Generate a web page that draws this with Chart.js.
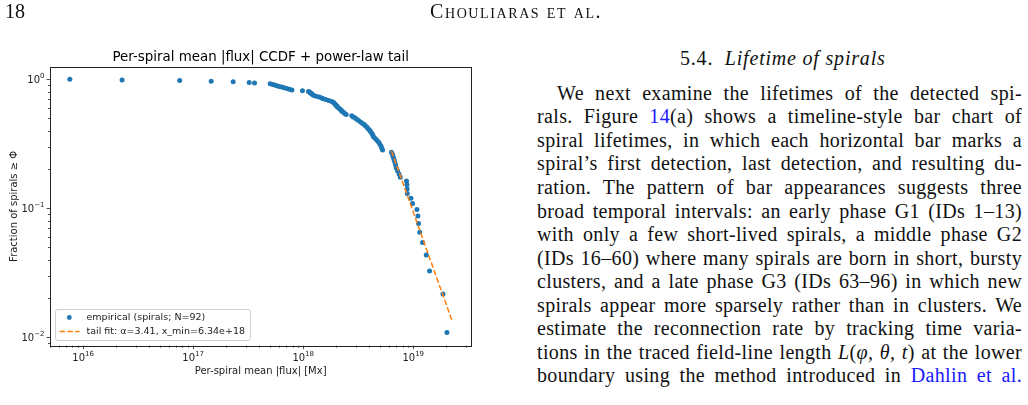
<!DOCTYPE html>
<html>
<head>
<meta charset="utf-8">
<script src="https://cdn.jsdelivr.net/npm/chart.js@4/dist/chart.umd.min.js"></script>
<style>
  body { margin:0; background:#fff; width:1028px; height:405px; overflow:hidden; position:relative; }
  #fig { position:absolute; left:0; top:0; }
  .serif { font-family:"Liberation Serif","DejaVu Serif",serif; color:#111; position:absolute; white-space:nowrap; }
  .ln { position:absolute; left:537px; width:485px; font-family:"Liberation Serif",serif; font-size:20px; color:#111;
        text-align:justify; text-align-last:justify; white-space:normal; line-height:24px; letter-spacing:0.35px; }
  .lnk { color:#1a1aff; }
</style>
</head>
<body>
<canvas id="fig" width="500" height="405"></canvas>

<div class="serif" style="left:5px; top:0px; font-size:20px;">18</div>
<div class="serif" style="left:430px; top:0px; font-size:20px; font-variant:small-caps; letter-spacing:1.6px;">Chouliaras et al.</div>
<div class="serif" style="left:680px; top:47px; font-size:20px; letter-spacing:0.8px;">5.4.&nbsp; <i>Lifetime of spirals</i></div>

<div class="ln" style="top:81px; padding-left:20px; width:465px;">We next examine the lifetimes of the detected spi-</div>
<div class="ln" style="top:104px;">rals. Figure <span class="lnk">14</span>(a) shows a timeline-style bar chart of</div>
<div class="ln" style="top:128px;">spiral lifetimes, in which each horizontal bar marks a</div>
<div class="ln" style="top:151px;">spiral’s first detection, last detection, and resulting du-</div>
<div class="ln" style="top:175px;">ration. The pattern of bar appearances suggests three</div>
<div class="ln" style="top:199px;">broad temporal intervals: an early phase G1 (IDs 1–13)</div>
<div class="ln" style="top:222px;">with only a few short-lived spirals, a middle phase G2</div>
<div class="ln" style="top:246px;">(IDs 16–60) where many spirals are born in short, bursty</div>
<div class="ln" style="top:269px;">clusters, and a late phase G3 (IDs 63–96) in which new</div>
<div class="ln" style="top:293px;">spirals appear more sparsely rather than in clusters. We</div>
<div class="ln" style="top:316px;">estimate the reconnection rate by tracking time varia-</div>
<div class="ln" style="top:340px;">tions in the traced field-line length <i>L</i>(<i>φ, θ, t</i>) at the lower</div>
<div class="ln" style="top:363px;">boundary using the method introduced in <span class="lnk">Dahlin et al.</span></div>

<script>
// donnees (flux moyen par spirale, triees)
const flux = [
  7.57e15, 2.26e16, 7.54e16, 1.458e17, 2.31e17, 3.23e17, 3.61e17,
  5.01e17, 5.28e17, 5.51e17, 5.77e17, 6.05e17, 6.38e17, 6.72e17, 7.11e17, 7.51e17, 7.90e17,
  9.85e17, 1.117e18, 1.146e18, 1.170e18, 1.19e18, 1.215e18, 1.246e18, 1.313e18, 1.398e18,
  1.473e18, 1.52e18, 1.602e18, 1.705e18, 1.816e18, 1.874e18, 1.913e18, 1.954e18, 1.987e18,
  2.016e18, 2.050e18, 2.102e18, 2.169e18, 2.215e18, 2.247e18, 2.324e18, 2.383e18, 2.459e18,
  2.760e18, 2.848e18, 2.970e18, 3.065e18, 3.183e18, 3.319e18, 3.439e18, 3.585e18, 3.685e18,
  3.795e18, 3.899e18, 4.007e18, 4.109e18, 4.213e18, 4.284e18, 4.357e18, 4.515e18, 4.677e18,
  4.836e18, 4.96e18, 5.087e18, 5.17e18, 5.26e18,
  6.34e18, 6.48e18, 6.58e18, 6.69e18, 6.80e18, 6.90e18, 7.01e18, 7.20e18, 7.43e18, 7.62e18,
  8.69e18, 8.76e18, 8.80e18, 8.82e18, 9.53e18, 9.85e18,
  1.080e19, 1.103e19, 1.117e19, 1.146e19, 1.215e19, 1.313e19, 1.407e19, 1.862e19, 2.025e19
];
// fraction >= Phi (k/92)
const frac = [
  1.0000, 0.9891, 0.9783, 0.9674, 0.9565, 0.9457, 0.9348,
  0.9239, 0.9130, 0.9022, 0.8913, 0.8804, 0.8696, 0.8587, 0.8478, 0.8370, 0.8261,
  0.8152, 0.8043, 0.7935, 0.7826, 0.7717, 0.7609, 0.7500, 0.7391, 0.7283,
  0.7174, 0.7065, 0.6957, 0.6848, 0.6739, 0.6630, 0.6522, 0.6413, 0.6304,
  0.6196, 0.6087, 0.5978, 0.5870, 0.5761, 0.5652, 0.5543, 0.5435, 0.5326,
  0.5217, 0.5109, 0.5000, 0.4891, 0.4783, 0.4674, 0.4565, 0.4457, 0.4348,
  0.4239, 0.4130, 0.4022, 0.3913, 0.3804, 0.3696, 0.3587, 0.3478, 0.3370,
  0.3261, 0.3152, 0.3043, 0.2935, 0.2826,
  0.2717, 0.2609, 0.2500, 0.2391, 0.2283, 0.2174, 0.2065, 0.1957, 0.1848, 0.1739,
  0.1630, 0.1522, 0.1413, 0.1304, 0.1196, 0.1087,
  0.0978, 0.0870, 0.0761, 0.0652, 0.0543, 0.0435, 0.0326, 0.0217, 0.0109
];
// ajustement loi de puissance (queue)
const fitFlux = [6.34e18, 2.27e19];
const fitFrac = [0.278, 0.0132];

const xTickExps = [16, 17, 18, 19];
const yTickExps = [0, -1, -2];

const FONT = '"DejaVu Sans", sans-serif';

function drawPow(ctx, exp, x, y, align) {
  // "10" + exposant en petit
  let e = exp < 0 ? '\u2212' + (-exp) : String(exp);
  ctx.font = '10px ' + FONT;
  let wb = ctx.measureText('10').width;
  ctx.font = '7px ' + FONT;
  let we = ctx.measureText(e).width;
  let total = wb + we;
  let x0 = align === 'right' ? x - total : x - total / 2;
  ctx.textAlign = 'left';
  ctx.textBaseline = 'alphabetic';
  ctx.font = '10px ' + FONT;
  ctx.fillText('10', x0, y);
  ctx.font = '7px ' + FONT;
  ctx.fillText(e, x0 + wb, y - 5);
}

const axesPlugin = {
  id: 'mplAxes',
  afterDatasetsDraw(chart) {
    const ctx = chart.ctx;
    const a = chart.chartArea;
    const sx = chart.scales.x, sy = chart.scales.y;
    ctx.save();
    ctx.fillStyle = '#222';
    ctx.strokeStyle = '#222';

    // cadre
    ctx.lineWidth = 1;
    ctx.strokeRect(Math.round(a.left) + 0.5, Math.round(a.top) + 0.5,
                   Math.round(a.right - a.left), Math.round(a.bottom - a.top));

    // graduations x
    ctx.beginPath();
    for (let e = 15; e <= 19; e++) {
      for (let m = 1; m <= 9; m++) {
        let v = m * Math.pow(10, e);
        if (v < sx.min || v > sx.max) continue;
        let px = Math.round(sx.getPixelForValue(v)) + 0.5;
        let len = m === 1 ? 3.5 : 2;
        ctx.moveTo(px, a.bottom);
        ctx.lineTo(px, a.bottom + len);
      }
    }
    // graduations y
    for (let e = -3; e <= 0; e++) {
      for (let m = 1; m <= 9; m++) {
        let v = m * Math.pow(10, e);
        if (v < sy.min || v > sy.max) continue;
        let py = Math.round(sy.getPixelForValue(v)) + 0.5;
        let len = m === 1 ? 3.5 : 2;
        ctx.moveTo(a.left, py);
        ctx.lineTo(a.left - len, py);
      }
    }
    ctx.lineWidth = 0.8;
    ctx.stroke();

    // etiquettes
    xTickExps.forEach(e => {
      drawPow(ctx, e, sx.getPixelForValue(Math.pow(10, e)), a.bottom + 15, 'center');
    });
    yTickExps.forEach(e => {
      drawPow(ctx, e, a.left - 5.5, sy.getPixelForValue(Math.pow(10, e)) + 4, 'right');
    });

    // titres
    ctx.textAlign = 'center';
    ctx.textBaseline = 'alphabetic';
    ctx.font = '13.4px ' + FONT;
    ctx.fillStyle = '#000';
    ctx.fillText('Per-spiral mean |flux| CCDF + power-law tail', (a.left + a.right) / 2, a.top - 6);
    ctx.font = '10px ' + FONT;
    ctx.fillStyle = '#222';
    ctx.fillText('Per-spiral mean |flux| [Mx]', (a.left + a.right) / 2, a.bottom + 28);
    ctx.save();
    ctx.translate(17, (a.top + a.bottom) / 2);
    ctx.rotate(-Math.PI / 2);
    ctx.fillText('Fraction of spirals \u2265 \u03a6', 0, 0);
    ctx.restore();

    // legende
    let lx = 55, ly = 309, lw = 195, lh = 31;
    ctx.beginPath();
    ctx.roundRect(lx + 0.5, ly + 0.5, lw, lh, 2.5);
    ctx.fillStyle = 'rgba(255,255,255,0.8)';
    ctx.fill();
    ctx.strokeStyle = '#d0d0d0';
    ctx.lineWidth = 1;
    ctx.stroke();

    ctx.fillStyle = '#1f77b4';
    ctx.beginPath();
    ctx.arc(69.3, 317.5, 2.4, 0, Math.PI * 2);
    ctx.fill();
    ctx.strokeStyle = '#ff7f0e';
    ctx.lineWidth = 1.5;
    ctx.setLineDash([5.5, 2.4]);
    ctx.beginPath();
    ctx.moveTo(59.5, 331.5);
    ctx.lineTo(79.5, 331.5);
    ctx.stroke();
    ctx.setLineDash([]);

    ctx.fillStyle = '#222';
    ctx.textAlign = 'left';
    ctx.textBaseline = 'middle';
    ctx.font = '9.5px ' + FONT;
    ctx.fillText('empirical (spirals; N=92)', 86.5, 318);
    ctx.fillText('tail fit: \u03b1=3.41, x_min=6.34e+18', 86.5, 332);
    ctx.restore();
  }
};

const empirical = flux.map((v, i) => ({ x: v, y: frac[i] }));
const tailFit = fitFlux.map((v, i) => ({ x: v, y: fitFrac[i] }));

new Chart(document.getElementById('fig'), {
  type: 'scatter',
  data: {
    datasets: [
      {
        label: 'empirical (spirals; N=92)',
        data: empirical,
        backgroundColor: '#1f77b4',
        borderWidth: 0,
        pointRadius: 2.5,
        order: 2
      },
      {
        label: 'tail fit',
        data: tailFit,
        showLine: true,
        borderColor: '#ff7f0e',
        borderWidth: 1.5,
        borderDash: [5.5, 2.4],
        pointRadius: 0,
        order: 1
      }
    ]
  },
  options: {
    responsive: false,
    animation: false,
    devicePixelRatio: 1,
    layout: { padding: { left: 50, top: 67, right: 28.7, bottom: 59.3 } },
    plugins: { legend: { display: false }, tooltip: { enabled: false } },
    scales: {
      x: { type: 'logarithmic', display: false, min: 5.0e15, max: 3.37e19 },
      y: { type: 'logarithmic', display: false, min: 0.00861, max: 1.245 }
    }
  },
  plugins: [axesPlugin]
});
</script>
</body>
</html>
